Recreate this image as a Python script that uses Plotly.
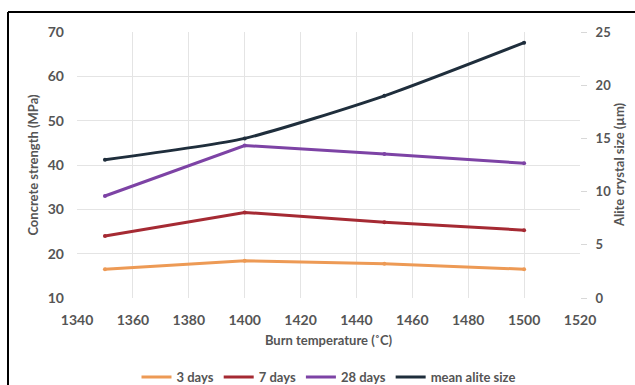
import plotly.graph_objects as go

# Burn temperatures (°C)
burn_temp = [1350, 1400, 1450, 1500]

# Concrete strength (MPa) by curing age
strength_3d = [16.5, 18.4, 17.7, 16.5]
strength_7d = [24.0, 29.3, 27.1, 25.3]
strength_28d = [33.0, 44.4, 42.5, 40.4]

# Mean alite crystal size (µm), right axis
alite_size = [13.0, 15.0, 19.0, 24.0]

FONT = "Lato"
TXT = "#555555"
GRID = "#e4e4e4"

fig = go.Figure()

series = [
    ("3 days", strength_3d, "#ED9A55", "y", "linear"),
    ("7 days", strength_7d, "#A52A33", "y", "linear"),
    ("28 days", strength_28d, "#7D43A5", "y", "linear"),
    ("mean alite size", alite_size, "#1F2E3C", "y2", "spline"),
]
for name, vals, color, yax, shape in series:
    fig.add_trace(go.Scatter(
        x=burn_temp, y=vals, name=name, yaxis=yax, mode="lines",
        line=dict(color=color, width=3, shape=shape, smoothing=0.6),
    ))
    # small point markers on top of each line
    fig.add_trace(go.Scatter(
        x=burn_temp, y=vals, yaxis=yax, mode="markers", showlegend=False,
        marker=dict(color=color, size=4), hoverinfo="skip",
    ))

bold = dict(family=FONT, color=TXT, weight="bold")

fig.update_layout(
    width=635, height=385,
    margin=dict(l=77, r=55, t=32, b=87, autoexpand=False),
    paper_bgcolor="white", plot_bgcolor="white",
    font=dict(family=FONT, size=13, color=TXT),
    showlegend=True,
    legend=dict(
        orientation="h", x=0.5, xanchor="center",
        yref="container", y=8 / 385, yanchor="middle",
        font=dict(size=13, **bold),
        itemwidth=30, tracegroupgap=0,
    ),
    xaxis=dict(
        range=[1340, 1520], dtick=20, tick0=1340,
        showgrid=True, gridcolor=GRID, gridwidth=1, zeroline=False,
        showline=False, ticks="", ticklabelstandoff=12,
        tickfont=dict(size=14, **bold),
        title=dict(text="Burn temperature (˚C)", standoff=8,
                   font=dict(size=13, **bold)),
    ),
    yaxis=dict(
        range=[10, 70], dtick=10,
        showgrid=True, gridcolor=GRID, gridwidth=1, zeroline=False,
        showline=False, ticks="", ticklabelstandoff=12,
        tickfont=dict(size=14, **bold),
        title=dict(text="Concrete strength (MPa)", standoff=6,
                   font=dict(size=13, **bold)),
    ),
    yaxis2=dict(
        range=[0, 25], dtick=5, overlaying="y", side="right",
        showgrid=False, zeroline=False, showline=False,
        ticks="outside", ticklen=6, tickcolor="#d8d8d8", ticklabelstandoff=6,
        tickfont=dict(size=13, **bold),
    ),
    annotations=[
        # right-axis title, placed close to the tick labels
        dict(text="Alite crystal size (µm)", textangle=-90,
             xref="paper", yref="paper", x=(619 - 77) / 503, y=0.5,
             xanchor="center", yanchor="middle", showarrow=False,
             font=dict(size=13, **bold)),
    ],
    shapes=[
        dict(type="line", xref="paper", yref="paper",
             x0=-69 / 503, x1=1.2, y0=1 + 20 / 266, y1=1 + 20 / 266,
             line=dict(color="black", width=2)),
        dict(type="line", xref="paper", yref="paper",
             x0=-69 / 503, x1=-69 / 503, y0=1 + 20 / 266, y1=-0.4,
             line=dict(color="black", width=2)),
    ],
)

fig.write_html("out.html")
